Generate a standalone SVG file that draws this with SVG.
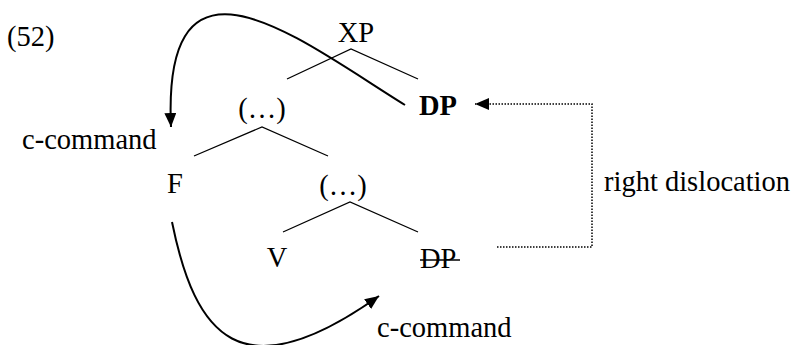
<svg xmlns="http://www.w3.org/2000/svg" width="793" height="345" viewBox="0 0 793 345">
<defs>
<style>
text{font-family:"Liberation Serif","Times New Roman",serif;font-size:28.5px;fill:#000}
.b{font-weight:bold}
.t{stroke:#000;stroke-width:1.3;fill:none}
.c{stroke:#000;stroke-width:2;fill:none}
.d{stroke:#000;stroke-width:1.5;fill:none;stroke-dasharray:1.5 1.5}
</style>
<marker id="ah" markerWidth="14" markerHeight="12" refX="14" refY="6" orient="auto" markerUnits="userSpaceOnUse"><path d="M0,0 L14,6 L0,12 Z" fill="#000"/></marker>
</defs>
<rect width="793" height="345" fill="#fff"/>
<text x="7" y="46">(52)</text>
<g id="XP"><text x="356" y="42" text-anchor="middle">XP</text><path class="t" d="M287,79 L351,49 L418,79"/></g>
<g id="dots1"><text x="262" y="118" text-anchor="middle">(…)</text><path class="t" d="M194,156 L262,127 L328,156"/></g>
<g id="DP1"><text class="b" x="419" y="115">DP</text></g>
<g id="F"><text x="175" y="193" text-anchor="middle">F</text></g>
<g id="dots2"><text x="343" y="195" text-anchor="middle">(…)</text><path class="t" d="M283,232 L350,202 L418,232"/></g>
<g id="V"><text x="277" y="267" text-anchor="middle">V</text></g>
<g id="DP2"><text x="420" y="268">DP</text><line class="t" x1="420" y1="260" x2="460" y2="260"/></g>
<g id="labels">
<text x="22" y="149">c-command</text>
<text x="604" y="191">right dislocation</text>
<text x="377" y="337">c-command</text>
</g>
<g id="connectors">
<path class="c" d="M405,105 C300,40 162,-72 171,127" marker-end="url(#ah)"/>
<path class="c" d="M172,222 C195,335 240,395 379,296" marker-end="url(#ah)"/>
<path class="d" d="M497,247 L592,247 L592,104 L475,104" marker-end="url(#ah)"/>
</g>
</svg>
